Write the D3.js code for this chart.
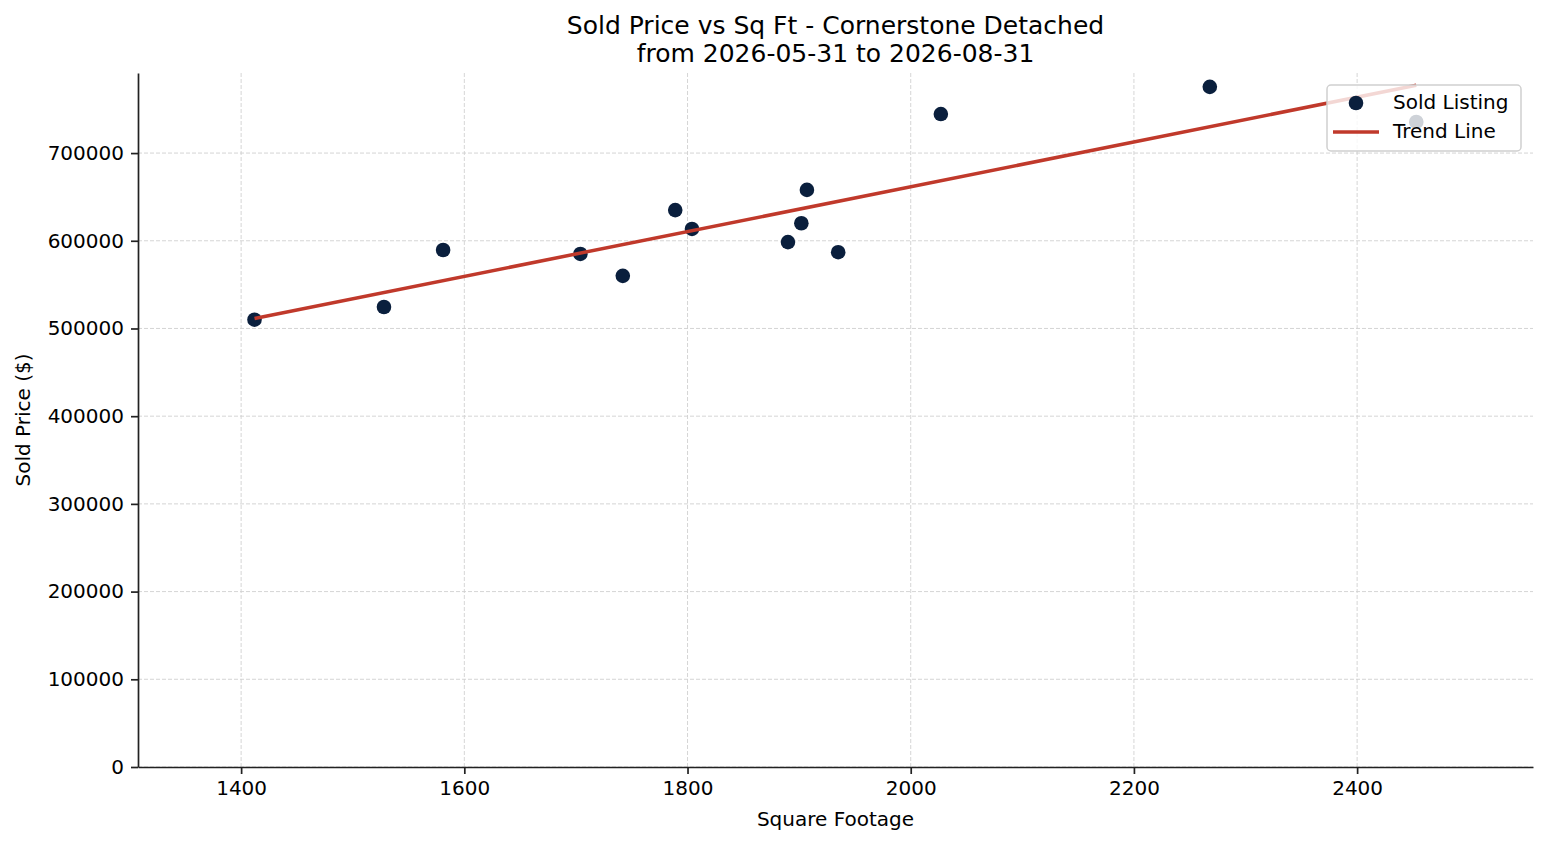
<!DOCTYPE html>
<html>
<head>
<meta charset="utf-8">
<script src="https://cdn.jsdelivr.net/npm/d3@7"></script>
<style>
  body { margin: 0; background: #fff; }
  svg { font-family: "DejaVu Sans", sans-serif; }
</style>
</head>
<body>
<script>
// Sold listings: square footage and sold price
const sqft = [1412, 1528, 1581, 1704, 1742, 1789, 1804, 1890, 1902, 1907, 1935, 2027, 2268, 2453];
const price = [510000, 524500, 589500, 585000, 560000, 635000, 613500, 598500, 620000, 658000, 587000, 744500, 775500, 735500];
const xTicks = [1400, 1600, 1800, 2000, 2200, 2400];
const yTicks = [0, 100000, 200000, 300000, 400000, 500000, 600000, 700000];
const legendLabels = ["Sold Listing", "Trend Line"];

const width = 1547, height = 845;
const margin = {top: 73, right: 14, bottom: 78, left: 138};
const navy = "#0a1f3d", red = "#c0392b";

const svg = d3.select("body").append("svg")
    .attr("width", width)
    .attr("height", height);

const x = d3.scaleLinear().domain([1307.6, 2557.6]).range([margin.left, width - margin.right]);
const y = d3.scaleLinear().domain([0, 791300]).range([height - margin.bottom, margin.top]);

// Grid lines
const grid = svg.append("g").attr("stroke", "#d0d0d0").attr("stroke-width", 0.9).attr("stroke-dasharray", "4,2");
grid.selectAll(".gx").data(xTicks).enter().append("line")
    .attr("x1", d => x(d)).attr("x2", d => x(d))
    .attr("y1", margin.top).attr("y2", height - margin.bottom);
grid.selectAll(".gy").data(yTicks).enter().append("line")
    .attr("x1", margin.left).attr("x2", width - margin.right)
    .attr("y1", d => y(d)).attr("y2", d => y(d));

// Axes
const xAxis = svg.append("g")
    .attr("transform", `translate(0,${height - margin.bottom})`)
    .call(d3.axisBottom(x).tickValues(xTicks).tickFormat(d3.format("d")).tickSizeInner(7).tickSizeOuter(0).tickPadding(7));
const yAxis = svg.append("g")
    .attr("transform", `translate(${margin.left},0)`)
    .call(d3.axisLeft(y).tickValues(yTicks).tickFormat(d3.format("d")).tickSizeInner(7).tickSizeOuter(0).tickPadding(7));
[xAxis, yAxis].forEach(a => {
    a.selectAll("path, line").attr("stroke", "#222").attr("stroke-width", 1.7);
    a.selectAll("text").attr("font-size", 20).attr("fill", "#000").attr("font-family", "DejaVu Sans");
});

// Axis labels
svg.append("text")
    .attr("x", (margin.left + width - margin.right) / 2).attr("y", 826)
    .attr("text-anchor", "middle").attr("font-size", 20).text("Square Footage");
svg.append("text")
    .attr("transform", `translate(30,${(margin.top + height - margin.bottom) / 2}) rotate(-90)`)
    .attr("text-anchor", "middle").attr("font-size", 20).text("Sold Price ($)");

// Title
const title = svg.append("text").attr("text-anchor", "middle").attr("font-size", 25);
title.append("tspan").attr("x", (margin.left + width - margin.right) / 2).attr("y", 34)
    .text("Sold Price vs Sq Ft - Cornerstone Detached");
title.append("tspan").attr("x", (margin.left + width - margin.right) / 2).attr("y", 62)
    .text("from 2026-05-31 to 2026-08-31");

// Points
const data = sqft.map((s, i) => ({s: s, p: price[i]}));
svg.append("g").selectAll("circle")
    .data(data).enter().append("circle")
    .attr("cx", d => x(d.s))
    .attr("cy", d => y(d.p))
    .attr("r", 7.3)
    .attr("fill", navy);

// Least-squares trend line
const mx = d3.mean(sqft), my = d3.mean(price);
const slope = d3.sum(data, d => (d.s - mx) * (d.p - my)) / d3.sum(data, d => (d.s - mx) ** 2);
const fit = s => my + slope * (s - mx);
const ends = d3.extent(sqft);
svg.append("path")
    .datum(ends)
    .attr("d", d3.line().x(s => x(s)).y(s => y(fit(s))))
    .attr("stroke", red)
    .attr("stroke-width", 3.5)
    .attr("fill", "none");

// Legend
const lg = svg.append("g").attr("transform", "translate(1327,85)");
lg.append("rect")
    .attr("width", 194).attr("height", 66).attr("rx", 4)
    .attr("fill", "rgba(255,255,255,0.8)")
    .attr("stroke", "#d0d0d0").attr("stroke-width", 1.5);
lg.append("circle").attr("cx", 29).attr("cy", 18).attr("r", 7.3).attr("fill", navy);
lg.append("line").attr("x1", 6).attr("x2", 52).attr("y1", 47).attr("y2", 47)
    .attr("stroke", red).attr("stroke-width", 3.5);
lg.selectAll(".lt").data(legendLabels).enter().append("text")
    .attr("x", 66).attr("y", (d, i) => 24 + i * 29)
    .attr("font-size", 20).text(d => d);
</script>
</body>
</html>
